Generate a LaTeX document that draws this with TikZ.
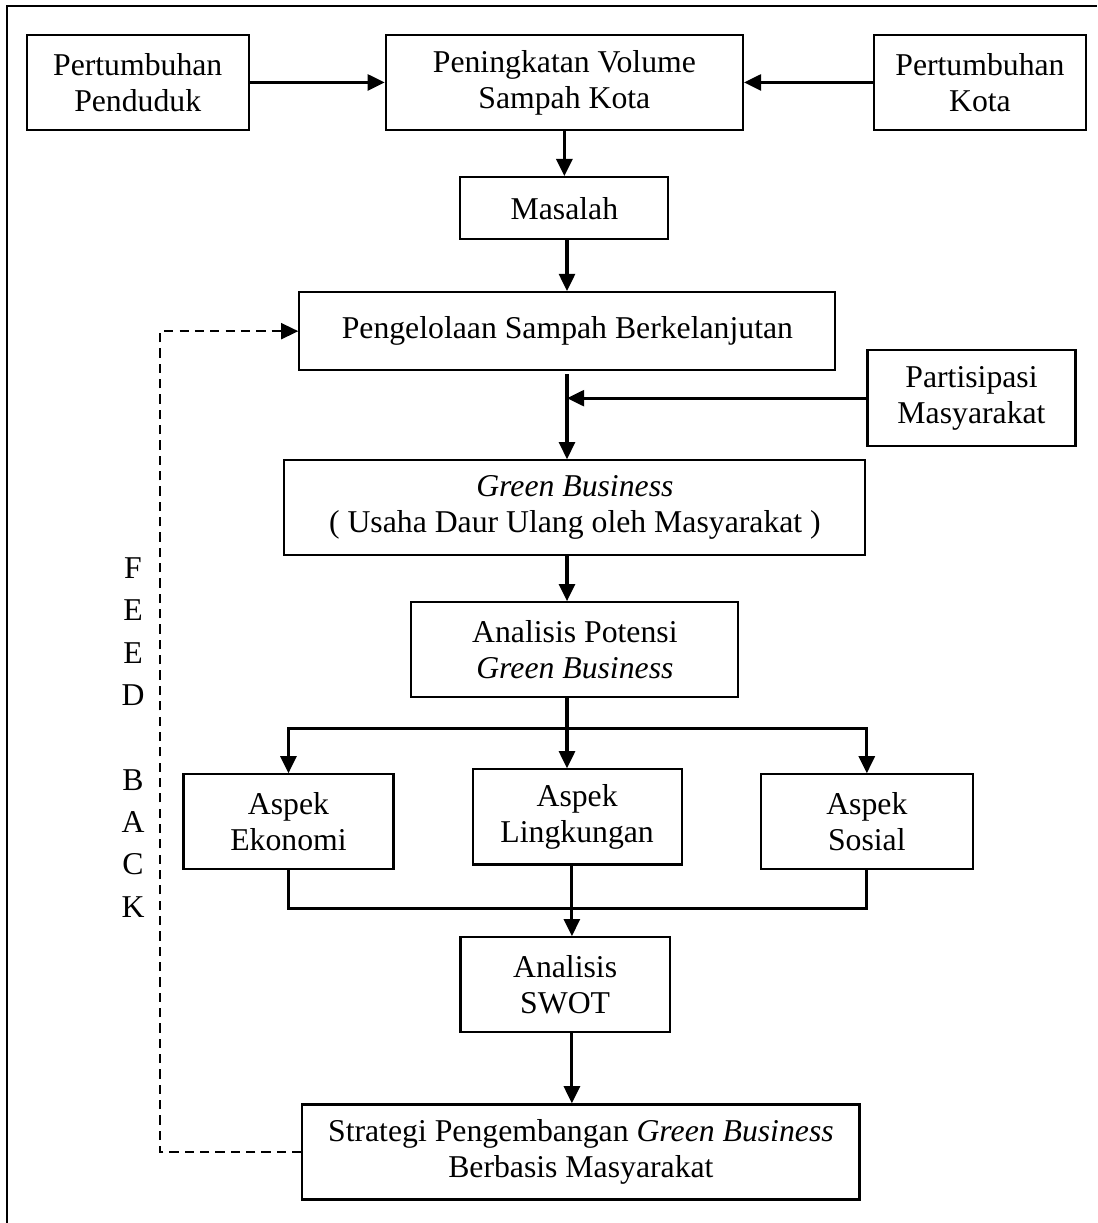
\documentclass[tikz,border=0pt]{standalone}
\usepackage{fontspec}
\setmainfont{Liberation Serif}
\usetikzlibrary{arrows.meta, positioning}

\begin{document}
\begin{tikzpicture}[
    node distance=0.7cm,
    box/.style={draw, line width=0.8pt, align=center, minimum width=2.78cm,
      minimum height=1.263cm, inner sep=2pt, font=\fontsize{12}{13.6}\selectfont},
    arrow/.style={-{Triangle[length=6.5pt, width=6pt]}, line width=1.2pt},
    joinline/.style={line width=1.1pt},
    fbarrow/.style={-{Triangle[length=6.5pt, width=6pt]}, line width=0.9pt,
      dash pattern=on 3.5pt off 2.3pt}
  ]
    \useasboundingbox (0,0) rectangle (14.579,-16.253);
    \draw[line width=0.8pt] (0.093,-16.253) -- (0.093,-0.08) -- (14.579,-0.08);

    % baris atas
    \node[box, minimum width=4.745cm] (volume) at (7.50,-1.096) {Peningkatan Volume\\Sampah Kota};
    \node[box, left=1.794cm of volume, minimum width=2.95cm] (penduduk) {Pertumbuhan\\Penduduk};
    \node[box, right=1.714cm of volume, minimum width=2.817cm] (kota) {Pertumbuhan\\Kota};

    \node[box, below=0.6cm of volume, minimum width=2.764cm, minimum height=0.824cm] (masalah) {Masalah};
    \node[box, below=0.675cm of masalah, xshift=0.04cm, minimum width=7.123cm, minimum height=1.037cm] (kelola) {Pengelolaan Sampah Berkelanjutan};
    \node[box, below=1.17cm of kelola, xshift=0.10cm, minimum width=7.721cm] (green) {\textit{Green Business}\\( Usaha Daur Ulang oleh Masyarakat )};
    \node[box, above right=0.16cm and 0cm of green.north east, minimum width=2.764cm, minimum height=1.276cm] (partisipasi) {Partisipasi\\Masyarakat};
    \node[box, below=0.595cm of green, minimum width=4.346cm] (potensi) {Analisis Potensi\\\textit{Green Business}};

    % tiga aspek
    \node[box, below=0.93cm of potensi, xshift=0.03cm] (lingkungan) {Aspek\\Lingkungan};
    \node[box, left=1.023cm of lingkungan, yshift=-0.066cm, minimum width=2.791cm] (ekonomi) {Aspek\\Ekonomi};
    \node[box, right=1.023cm of lingkungan, yshift=-0.066cm, minimum width=2.817cm] (sosial) {Aspek\\Sosial};

    \node[box, below=0.94cm of lingkungan, xshift=-0.16cm] (swot) {Analisis\\SWOT};
    \node[box, below=0.93cm of swot, xshift=0.21cm, minimum width=7.403cm] (strategi) {Strategi Pengembangan \textit{Green Business}\\Berbasis Masyarakat};

    \node[align=center, inner sep=0pt, font=\fontsize{12}{16}\selectfont] (feedback) at (1.768,-9.80) {F\\E\\E\\D\\~\\B\\A\\C\\K};
    \coordinate (fbx) at (2.126,0);
    \coordinate (axis) at (7.535,0);
    \coordinate (axisb) at (7.60,0);

    \draw[arrow] (penduduk) -- (volume);
    \draw[arrow] (kota) -- (volume);
    \draw[arrow] (volume) -- (masalah);
    \draw[arrow] (masalah.south -| axis) -- (kelola.north -| axis);
    \draw[arrow] (kelola.south -| axis) ++(0,-0.04) -- (green.north -| axis);
    \draw[arrow] (partisipasi.west) -- (partisipasi.west -| axis);
    \draw[arrow] (green.south -| axis) -- (potensi.north -| axis);
    \draw[arrow] (potensi.south -| axis) -- (lingkungan.north -| axis);
    \draw[arrow] (potensi.south -| axis) ++(0,-0.4) -| (ekonomi.north);
    \draw[arrow] (potensi.south -| axis) ++(0,-0.4) -| (sosial.north);
    \draw[joinline] (ekonomi.south) -- ++(0,-0.505) -| (sosial.south);
    \draw[arrow] (lingkungan.south -| axisb) -- (swot.north -| axisb);
    \draw[arrow] (swot.south -| axisb) -- (strategi.north -| axisb);
    \draw[fbarrow] (strategi.west) -- (strategi.west -| fbx) |- (kelola.west);
  \end{tikzpicture}
\end{document}
